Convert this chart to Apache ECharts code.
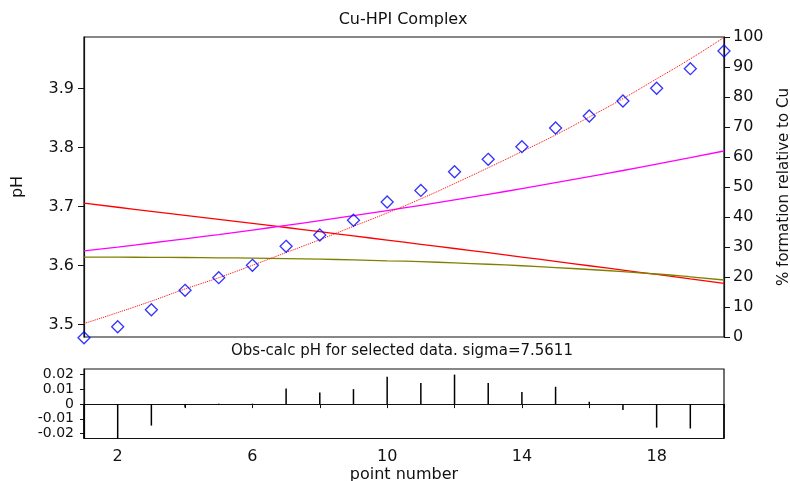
<!DOCTYPE html>
<html>
<head>
<meta charset="utf-8">
<script src="https://cdn.jsdelivr.net/npm/echarts@6/dist/echarts.min.js"></script>
<style>
  html, body { margin: 0; padding: 0; background: #fff; }
  #main { width: 790px; height: 481px; }
</style>
</head>
<body>
<div id="main"></div>
<script>
  // data
  var pointNo = [1, 2, 3, 4, 5, 6, 7, 8, 9, 10, 11, 12, 13, 14, 15, 16, 17, 18, 19, 20];
  var phObs = [3.478, 3.4966, 3.5254, 3.5583, 3.5797, 3.6007, 3.6329, 3.652, 3.677, 3.708,
               3.7276, 3.7593, 3.7803, 3.8017, 3.8334, 3.8537, 3.8792, 3.9007, 3.9339, 3.9639];
  var phCalc = [3.502, 3.5206, 3.540, 3.5606, 3.5797, 3.6007, 3.6223, 3.6441, 3.6668, 3.6894,
                3.7133, 3.7392, 3.766, 3.7935, 3.8216, 3.852, 3.8832, 3.9167, 3.9505, 3.987];
  var pctRed = [44.6, 43.25, 41.9, 40.55, 39.2, 37.85, 36.5, 35.1, 33.7, 32.3,
                30.9, 29.5, 28.1, 26.65, 25.2, 23.75, 22.3, 20.85, 19.4, 17.9];
  var pctMagenta = [28.7, 29.99, 31.33, 32.72, 34.16, 35.66, 37.2, 38.8, 40.45, 42.15,
                    43.9, 45.71, 47.56, 49.47, 51.43, 53.44, 55.5, 57.61, 59.79, 62.0];
  var pctOlive = [26.6, 26.6, 26.55, 26.5, 26.4, 26.3, 26.15, 25.95, 25.7, 25.4,
                  25.1, 24.7, 24.25, 23.75, 23.15, 22.5, 21.8, 21.0, 20.05, 19.0];
  var residual = [-0.024, -0.025, -0.0146, -0.0023, 0.0003, 0.0003, 0.0106, 0.0079, 0.0102, 0.0186,
                  0.0143, 0.0201, 0.0143, 0.0082, 0.0118, 0.0016, -0.004, -0.016, -0.0166, -0.024];
  var phTicks = [3.5, 3.6, 3.7, 3.8, 3.9];
  // residual tick labels, split over three overlaid axes so none gets dropped
  var residTicksA = [-0.02, 0, 0.02];
  var residTicksB = [0.01];
  var residTicksC = [-0.01];
  var xTicks = [2, 4, 6, 8, 10, 12, 14, 16, 18, 20];
  var xLabels = [2, 6, 10, 14, 18];

  function pairs(ys) {
    return pointNo.map(function (x, i) { return [x, ys[i]]; });
  }

  var FONT = 'DejaVu Sans';
  var INK = '#111';
  var lineAx = { show: true, lineStyle: { color: INK, width: 1.2 } };

  function residAxis(vals, withLine) {
    return {
      type: 'value', gridIndex: 1, min: -0.0234, max: 0.0239, position: 'left',
      axisLine: withLine ? lineAx : { show: false },
      axisTick: { show: true, length: 4, customValues: vals, lineStyle: { color: INK } },
      axisLabel: { customValues: vals, fontSize: 14, lineHeight: 12, color: INK, margin: 10, fontFamily: FONT,
        showMinLabel: true, showMaxLabel: true,
        formatter: function (v) { return (v < 0 ? '-' : '') + String(Math.round(Math.abs(v) * 100) / 100); } },
      splitLine: { show: false }
    };
  }

  var chart = echarts.init(document.getElementById('main'));
  chart.setOption({
    animation: false,
    textStyle: { fontFamily: FONT, color: INK },
    graphic: [
      { type: 'text', x: 403, y: 20,
        style: { text: 'Cu-HPI Complex', font: '16px ' + FONT, fill: INK, align: 'center', verticalAlign: 'middle' } },
      { type: 'text', x: 402, y: 351,
        style: { text: 'Obs-calc pH for selected data. sigma=7.5611', font: '15px ' + FONT, fill: INK, align: 'center', verticalAlign: 'middle' } }
    ],
    grid: [
      { left: 84, right: 66, top: 37, height: 300, show: true, borderColor: INK, borderWidth: 1.2,
        containLabel: false, outerBoundsMode: 'none' },
      { left: 84, right: 66, top: 369, height: 69.5, show: true, borderColor: INK, borderWidth: 1.2,
        containLabel: false, outerBoundsMode: 'none' }
    ],
    xAxis: [
      { type: 'value', gridIndex: 0, min: 1, max: 20,
        axisLine: { show: false }, axisTick: { show: false }, axisLabel: { show: false }, splitLine: { show: false } },
      { type: 'value', gridIndex: 1, min: 1, max: 20,
        axisLine: lineAx,
        axisTick: { show: true, length: 4, customValues: xTicks, lineStyle: { color: INK } },
        axisLabel: { customValues: xLabels, fontSize: 16, color: INK, margin: 10, fontFamily: FONT },
        splitLine: { show: false },
        name: 'point number', nameLocation: 'middle', nameGap: 28,
        nameTextStyle: { fontSize: 16, color: INK, fontFamily: FONT } }
    ],
    yAxis: [
      { type: 'value', gridIndex: 0, min: 3.4792, max: 3.9876, position: 'left',
        axisLine: lineAx,
        axisTick: { show: true, length: 6, customValues: phTicks, lineStyle: { color: INK } },
        axisLabel: { customValues: phTicks, fontSize: 16, color: INK, margin: 10, fontFamily: FONT,
          formatter: function (v) { return v.toFixed(1); } },
        splitLine: { show: false },
        name: 'pH', nameLocation: 'middle', nameGap: 58, nameRotate: 90,
        nameTextStyle: { fontSize: 16, color: INK, fontFamily: FONT } },
      { type: 'value', gridIndex: 0, min: 0, max: 100, interval: 10, position: 'right',
        axisLine: lineAx,
        axisTick: { show: true, length: 6, lineStyle: { color: INK } },
        axisLabel: { fontSize: 16, color: INK, margin: 9, fontFamily: FONT },
        splitLine: { show: false },
        name: '% formation relative to Cu', nameLocation: 'middle', nameGap: 53, nameRotate: 90,
        nameTextStyle: { fontSize: 15, color: INK, fontFamily: FONT } },
      residAxis(residTicksA, true),
      residAxis(residTicksB, false),
      residAxis(residTicksC, false)
    ],
    series: [
      { name: 'calc', type: 'line', xAxisIndex: 0, yAxisIndex: 0, data: pairs(phCalc),
        smooth: true, symbol: 'none', lineStyle: { color: '#ff0000', width: 1, type: 'dotted' }, z: 3 },
      { name: 'red', type: 'line', xAxisIndex: 0, yAxisIndex: 1, data: pairs(pctRed),
        smooth: true, symbol: 'none', lineStyle: { color: '#ff0000', width: 1.3 }, z: 2 },
      { name: 'magenta', type: 'line', xAxisIndex: 0, yAxisIndex: 1, data: pairs(pctMagenta),
        smooth: true, symbol: 'none', lineStyle: { color: '#ff00ff', width: 1.3 }, z: 2 },
      { name: 'olive', type: 'line', xAxisIndex: 0, yAxisIndex: 1, data: pairs(pctOlive),
        smooth: true, symbol: 'none', lineStyle: { color: '#808000', width: 1.3 }, z: 2 },
      { name: 'obs', type: 'scatter', xAxisIndex: 0, yAxisIndex: 0, data: pairs(phObs),
        clip: false, symbol: 'diamond', symbolSize: [12, 12],
        itemStyle: { color: 'rgba(0,0,0,0)', borderColor: '#0000ff', borderWidth: 1.3 }, z: 5 },
      { name: 'resid', type: 'bar', xAxisIndex: 1, yAxisIndex: 2, data: pairs(residual),
        barWidth: 1.5, itemStyle: { color: '#000' }, z: 4 }
    ]
  });
</script>
</body>
</html>
